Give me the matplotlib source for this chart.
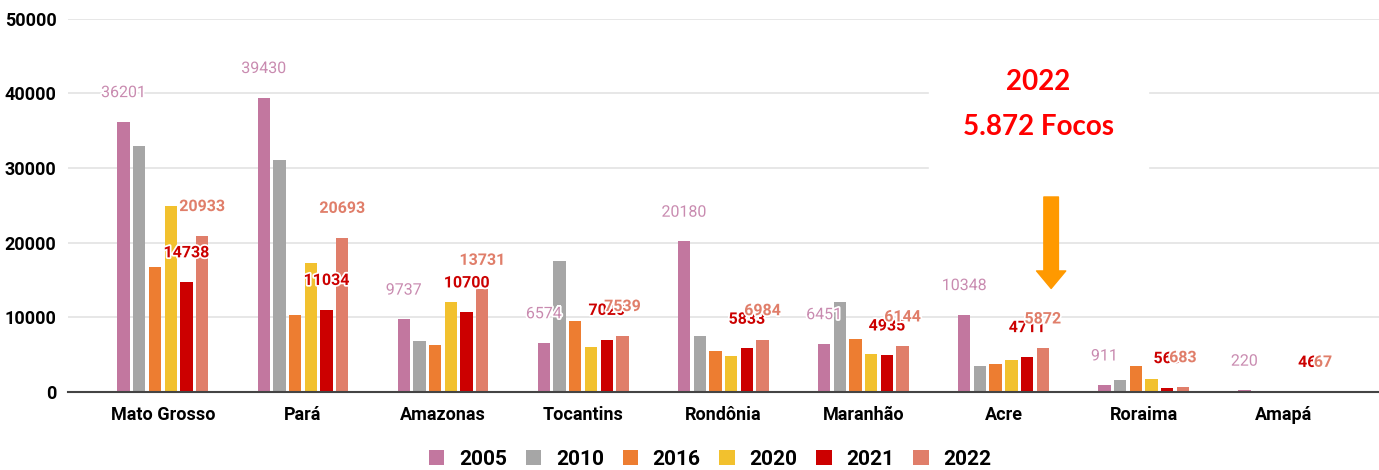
import matplotlib.pyplot as plt
import matplotlib.patheffects as pe
import numpy as np

estados = ['Mato Grosso', 'Pará', 'Amazonas', 'Tocantins', 'Rondônia',
           'Maranhão', 'Acre', 'Roraima', 'Amapá']
anos = ['2005', '2010', '2016', '2020', '2021', '2022']

focos_2005 = [36201, 39430, 9737, 6574, 20180, 6451, 10348, 911, 220]
focos_2010 = [33000, 31100, 6880, 17560, 7500, 12100, 3490, 1600, 80]
focos_2016 = [16800, 10320, 6300, 9470, 5500, 7060, 3700, 3490, 100]
focos_2020 = [24900, 17330, 12100, 6080, 4870, 5090, 4290, 1700, 90]
focos_2021 = [14738, 11034, 10700, 7020, 5833, 4935, 4711, 560, 46]
focos_2022 = [20933, 20693, 13731, 7539, 6984, 6144, 5872, 683, 67]

series = [focos_2005, focos_2010, focos_2016, focos_2020, focos_2021, focos_2022]
cores = ['#C2779F', '#A6A6A6', '#ED7D31', '#F2C12E', '#CC0000', '#E07E6A']

plt.rcParams['font.family'] = ['Roboto', 'DejaVu Sans']

fig = plt.figure(figsize=(13.79, 4.70), dpi=100)
ax = fig.add_axes([0.049, 0.166, 0.951, 0.794])

x = np.arange(len(estados))
passo = 0.112
largura = 0.088
for i, (valores, cor, ano) in enumerate(zip(series, cores, anos)):
    pos = x + (i - 2.5) * passo
    ax.bar(pos, valores, width=largura, color=cor, label=ano, zorder=3)

# rotulos de valores (2005, 2021, 2022)
contorno = [pe.withStroke(linewidth=2.5, foreground='white')]
rotulos = [(0, '#C98BB0', 'normal'), (4, '#CC0000', 'bold'), (5, '#E07E6A', 'bold')]
for i, cor, peso in rotulos:
    pos = x + (i - 2.5) * passo
    for p, v in zip(pos, series[i]):
        ax.annotate(str(v), (p, v), xytext=(0, 21), textcoords='offset points',
                    ha='center', va='center', color=cor, fontsize=11.5,
                    fontweight=peso, path_effects=contorno, zorder=5)

ax.set_xlim(-0.68, 8.68)
ax.set_ylim(0, 50000)
ax.set_yticks(range(0, 50001, 10000))
ax.set_xticks(x)
ax.set_xticklabels(estados, fontsize=13, fontweight='bold')
for t in ax.get_yticklabels():
    t.set_fontsize(13)
    t.set_fontweight('bold')
ax.tick_params(axis='both', length=0, pad=8)
ax.tick_params(axis='x', pad=10)
ax.grid(axis='y', color='#E3E3E3', linewidth=1.2, zorder=0)
ax.set_axisbelow(True)
for s in ['top', 'right', 'left']:
    ax.spines[s].set_visible(False)
ax.spines['bottom'].set_color('#444444')
ax.spines['bottom'].set_linewidth(1.5)
ax.spines['bottom'].set_zorder(4)

# caixa de destaque
ax.add_patch(plt.Rectangle((5.47, 29500), 1.56, 16500, color='white', zorder=1,
                           clip_on=False))
ax.text(6.25, 41500, '2022', color='#FF0000', fontsize=20, fontweight='bold',
        ha='center', va='center', family=['Lato', 'DejaVu Sans'], zorder=6)
ax.text(6.25, 35500, '5.872 Focos', color='#FF0000', fontsize=20, fontweight='bold',
        ha='center', va='center', family=['Lato', 'DejaVu Sans'], zorder=6)
ax.annotate('', xy=(6.34, 13500), xytext=(6.34, 26500),
            arrowprops=dict(arrowstyle='simple,head_width=1.5,head_length=0.9,tail_width=0.75',
                            color='#FF9900', mutation_scale=14), zorder=6)

leg = ax.legend(loc='upper center', bbox_to_anchor=(0.49, -0.105), ncol=6,
                frameon=False, handlelength=0.75, handleheight=0.75,
                columnspacing=0.9, handletextpad=0.7,
                prop={'weight': 'bold', 'size': 15})

fig.savefig('out.png', dpi=100)
